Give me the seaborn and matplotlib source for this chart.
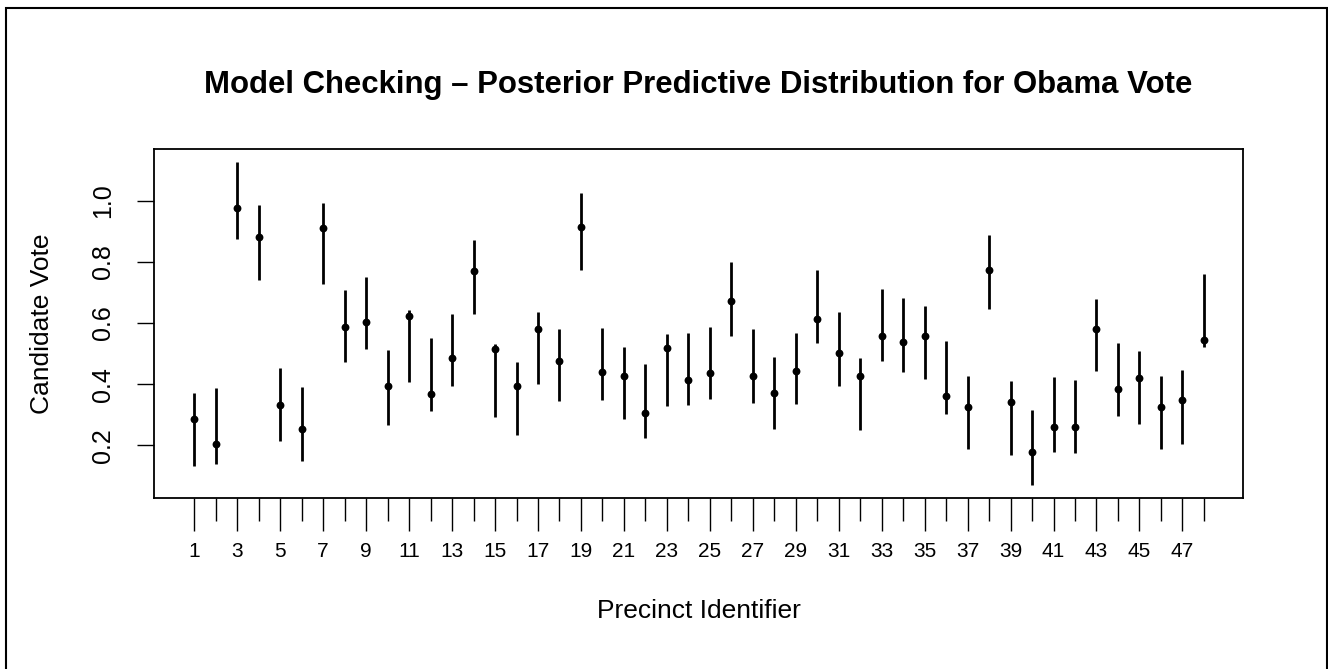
import numpy as np
import pandas as pd
import matplotlib
matplotlib.use("Agg")
import matplotlib.pyplot as plt
from matplotlib.patches import Rectangle
import seaborn as sns

# ---- data ----
precinct = list(range(1, 49))
median = [0.285, 0.204, 0.978, 0.883, 0.331, 0.252, 0.912, 0.588, 0.605, 0.395,
          0.622, 0.367, 0.487, 0.769, 0.516, 0.395, 0.582, 0.475, 0.915, 0.441,
          0.427, 0.306, 0.518, 0.412, 0.438, 0.672, 0.426, 0.372, 0.444, 0.613,
          0.501, 0.426, 0.556, 0.537, 0.559, 0.362, 0.324, 0.773, 0.342, 0.179,
          0.259, 0.259, 0.580, 0.385, 0.420, 0.324, 0.347, 0.546]
lower = [0.132, 0.139, 0.875, 0.740, 0.214, 0.149, 0.727, 0.473, 0.514, 0.267,
         0.407, 0.313, 0.395, 0.631, 0.292, 0.233, 0.400, 0.345, 0.775, 0.348,
         0.287, 0.225, 0.329, 0.332, 0.352, 0.559, 0.338, 0.252, 0.334, 0.536,
         0.395, 0.249, 0.476, 0.441, 0.417, 0.302, 0.187, 0.645, 0.169, 0.069,
         0.177, 0.174, 0.442, 0.295, 0.271, 0.186, 0.203, 0.520]
upper = [0.370, 0.388, 1.128, 0.986, 0.452, 0.391, 0.993, 0.708, 0.752, 0.511,
         0.642, 0.551, 0.629, 0.871, 0.533, 0.472, 0.636, 0.582, 1.025, 0.585,
         0.523, 0.467, 0.564, 0.568, 0.587, 0.799, 0.579, 0.490, 0.569, 0.773,
         0.636, 0.485, 0.712, 0.682, 0.655, 0.542, 0.427, 0.889, 0.411, 0.315,
         0.424, 0.415, 0.679, 0.534, 0.510, 0.426, 0.447, 0.759]
y_ticks = [0.2, 0.4, 0.6, 0.8, 1.0]
x_major = list(range(1, 48, 2))
x_minor = list(range(2, 49, 2))

title = "Model Checking \u2013 Posterior Predictive Distribution for Obama Vote"
xlabel = "Precinct Identifier"
ylabel = "Candidate Vote"

df = pd.DataFrame({"precinct": precinct, "median": median,
                   "lower": lower, "upper": upper})

sns.set_style("ticks")
plt.rcParams["font.family"] = ["Liberation Sans", "DejaVu Sans"]
plt.rcParams["text.color"] = "black"
plt.rcParams["axes.labelcolor"] = "black"
plt.rcParams["xtick.color"] = "black"
plt.rcParams["ytick.color"] = "black"

W, H = 1328, 669
fig = plt.figure(figsize=(W / 100, H / 100), dpi=100)
L, R, T, B = 154, 1243, 149.3, 497.7
ax = fig.add_axes([L / W, 1 - B / H, (R - L) / W, (B - T) / H])

ax.vlines(df["precinct"], df["lower"], df["upper"], color="black", lw=2, zorder=2)
sns.scatterplot(data=df, x="precinct", y="median", ax=ax, color="black",
                s=32, edgecolor="black", linewidth=0, zorder=3, legend=False)

ax.set_xlim(-0.876, 49.82)
ax.set_ylim(0.028, 1.169)

ax.set_xticks(x_major)
ax.set_xticklabels([str(v) for v in x_major])
ax.set_xticks(x_minor, minor=True)
ax.set_yticks(y_ticks)
ax.set_yticklabels([f"{v:.1f}" for v in y_ticks], rotation=90, va="center")

ax.tick_params(axis="x", which="major", direction="out", length=24, width=1,
               labelsize=15, pad=8, color="black", labelcolor="black")
ax.tick_params(axis="x", which="minor", direction="out", length=16.5, width=1,
               color="black")
ax.tick_params(axis="y", which="major", direction="out", length=12, width=1,
               labelsize=18, pad=16, color="black", labelcolor="black")

for sp in ax.spines.values():
    sp.set_visible(True)
    sp.set_linewidth(1.3)
    sp.set_color("black")

ax.set_xlabel(xlabel, fontsize=19, va="center", color="black")
ax.xaxis.set_label_coords(0.5, -0.325)
ax.set_ylabel(ylabel, fontsize=19, va="center", color="black")
ax.yaxis.set_label_coords((42 - L) / (R - L), 0.5)

fig.text((L + R) / 2 / W, 1 - 85 / H, title, fontsize=22.4, fontweight="bold",
         ha="center", va="center", color="black")

fig.patches.append(Rectangle((6 / W, -0.1), (1326.5 - 6) / W, 1.1 - 8 / H,
                             transform=fig.transFigure, fill=False,
                             edgecolor="black", lw=1.5))

fig.savefig("out.png", dpi=100, facecolor="white")
